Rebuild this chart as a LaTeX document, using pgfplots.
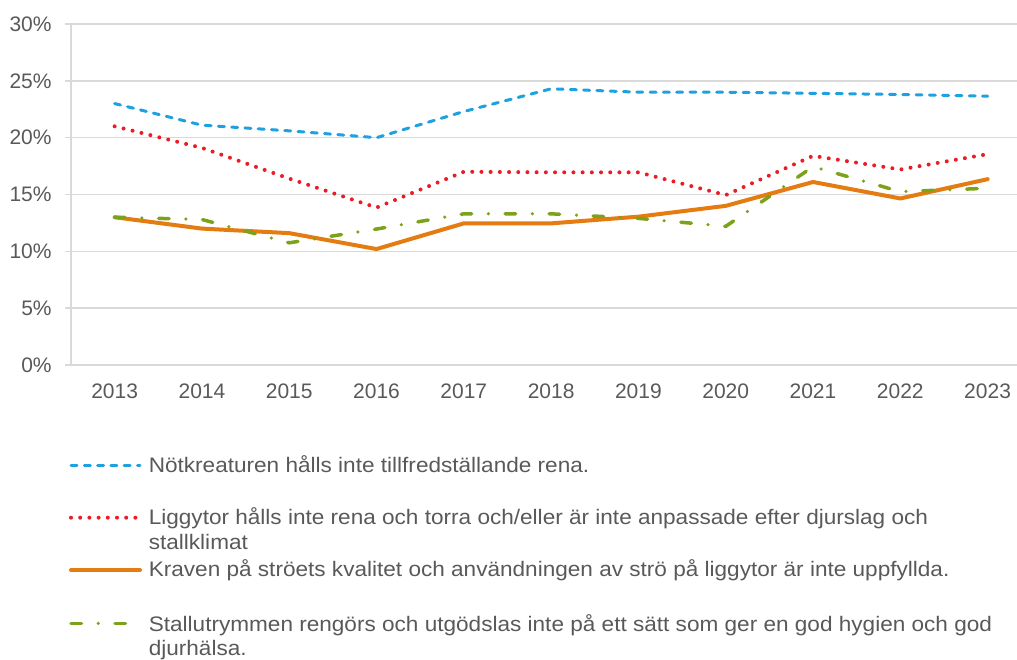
\documentclass[border=0pt]{standalone}
\usepackage{pgfplots}
\pgfplotsset{compat=1.18}
\usepackage{fontspec}
\setmainfont{Liberation Sans}
\newfontfamily\legendfont[FakeStretch=1.075]{Liberation Sans}
\definecolor{txt}{RGB}{89,89,89}
\definecolor{gridc}{RGB}{217,217,217}
\definecolor{cblue}{RGB}{30,160,225}
\definecolor{cred}{RGB}{236,28,36}
\definecolor{corange}{RGB}{228,124,18}
\definecolor{cgreen}{RGB}{124,162,26}
\tikzset{
  sblue/.style={cblue, line width=1.5pt, line cap=round, line join=round, dash pattern=on 3pt off 3.65pt},
  sred/.style={cred, line width=2pt, line cap=round, line join=round, dash pattern=on 0pt off 4.6pt},
  sorange/.style={corange, line width=2pt, line cap=round, line join=round},
  sgreen/.style={cgreen, line width=1.75pt, line cap=round, line join=round, dash pattern=on 5.25pt off 8.375pt on 0pt off 8.375pt},
}
\begin{document}
\begin{tikzpicture}[x=1pt,y=1pt]
\useasboundingbox (0,0) rectangle (508.5,329.5);
\begin{axis}[
  at={(35.5pt,147pt)}, anchor=south west,
  scale only axis, width=473pt, height=170.5pt,
  xmin=2012.5, xmax=2023.336, ymin=0, ymax=30,
  axis x line*=bottom, axis y line*=left,
  axis line style={draw=gridc, line width=0.75pt, -},
  ytick={0,5,...,30}, xtick={2013,...,2023},
  ymajorgrids, grid style={draw=gridc, line width=0.75pt},
  major tick length=3pt, tick align=outside,
  xtick style={draw=none}, ytick style={draw=gridc, line width=0.75pt},
  /pgf/number format/assume math mode=true,
  yticklabel={\pgfmathprintnumber{\tick}\%},
  tick label style={font=\fontsize{10.5}{12}\selectfont, text=txt},
  xticklabel style={/pgf/number format/1000 sep={}, anchor=north, inner sep=0pt, yshift=-6.25pt},
  yticklabel style={anchor=east, inner sep=0pt, xshift=-6.5pt},
  clip=false,
]
\addplot[sblue] coordinates {(2013,23.0) (2014,21.1) (2015,20.6) (2016,20.0) (2017,22.3) (2018,24.3) (2019,24.0) (2020,24.0) (2021,23.9) (2022,23.8) (2023,23.65)};
\addplot[sred] coordinates {(2013,21.0) (2014,19.1) (2015,16.4) (2016,13.85) (2017,17.0) (2018,16.95) (2019,16.95) (2020,14.95) (2021,18.4) (2022,17.2) (2023,18.55)};
\addplot[sorange] coordinates {(2013,13.0) (2014,12.0) (2015,11.6) (2016,10.2) (2017,12.46) (2018,12.46) (2019,13.05) (2020,14.0) (2021,16.1) (2022,14.65) (2023,16.35)};
\addplot[sgreen] coordinates {(2013,13.0) (2014,12.8) (2015,10.75) (2016,11.96) (2017,13.3) (2018,13.3) (2019,12.9) (2020,12.2) (2021,17.45) (2022,15.25) (2023,15.55)};
\end{axis}
% legend
\begin{scope}[every node/.style={anchor=base west, inner sep=0pt, text=txt, font=\legendfont\fontsize{10.5}{12}\selectfont}]
\draw[sblue] (35.5,96.65) -- (70,96.65);
\node at (74.2,93.35) {Nötkreaturen hålls inte tillfredställande rena.};
\draw[sred] (35.5,70.65) -- (70,70.65);
\node at (74.2,67) {Liggytor hålls inte rena och torra och/eller är inte anpassade efter djurslag och};
\node at (74.2,55) {stallklimat};
\draw[sorange] (35.5,44.5) -- (70,44.5);
\node at (74.2,41.15) {Kraven på ströets kvalitet och användningen av strö på liggytor är inte uppfyllda.};
\draw[sgreen] (35.5,17.85) -- (65,17.85);
\node at (74.2,14) {Stallutrymmen rengörs och utgödslas inte på ett sätt som ger en god hygien och god};
\node at (74.2,2) {djurhälsa.};
\end{scope}
\end{tikzpicture}
\end{document}
